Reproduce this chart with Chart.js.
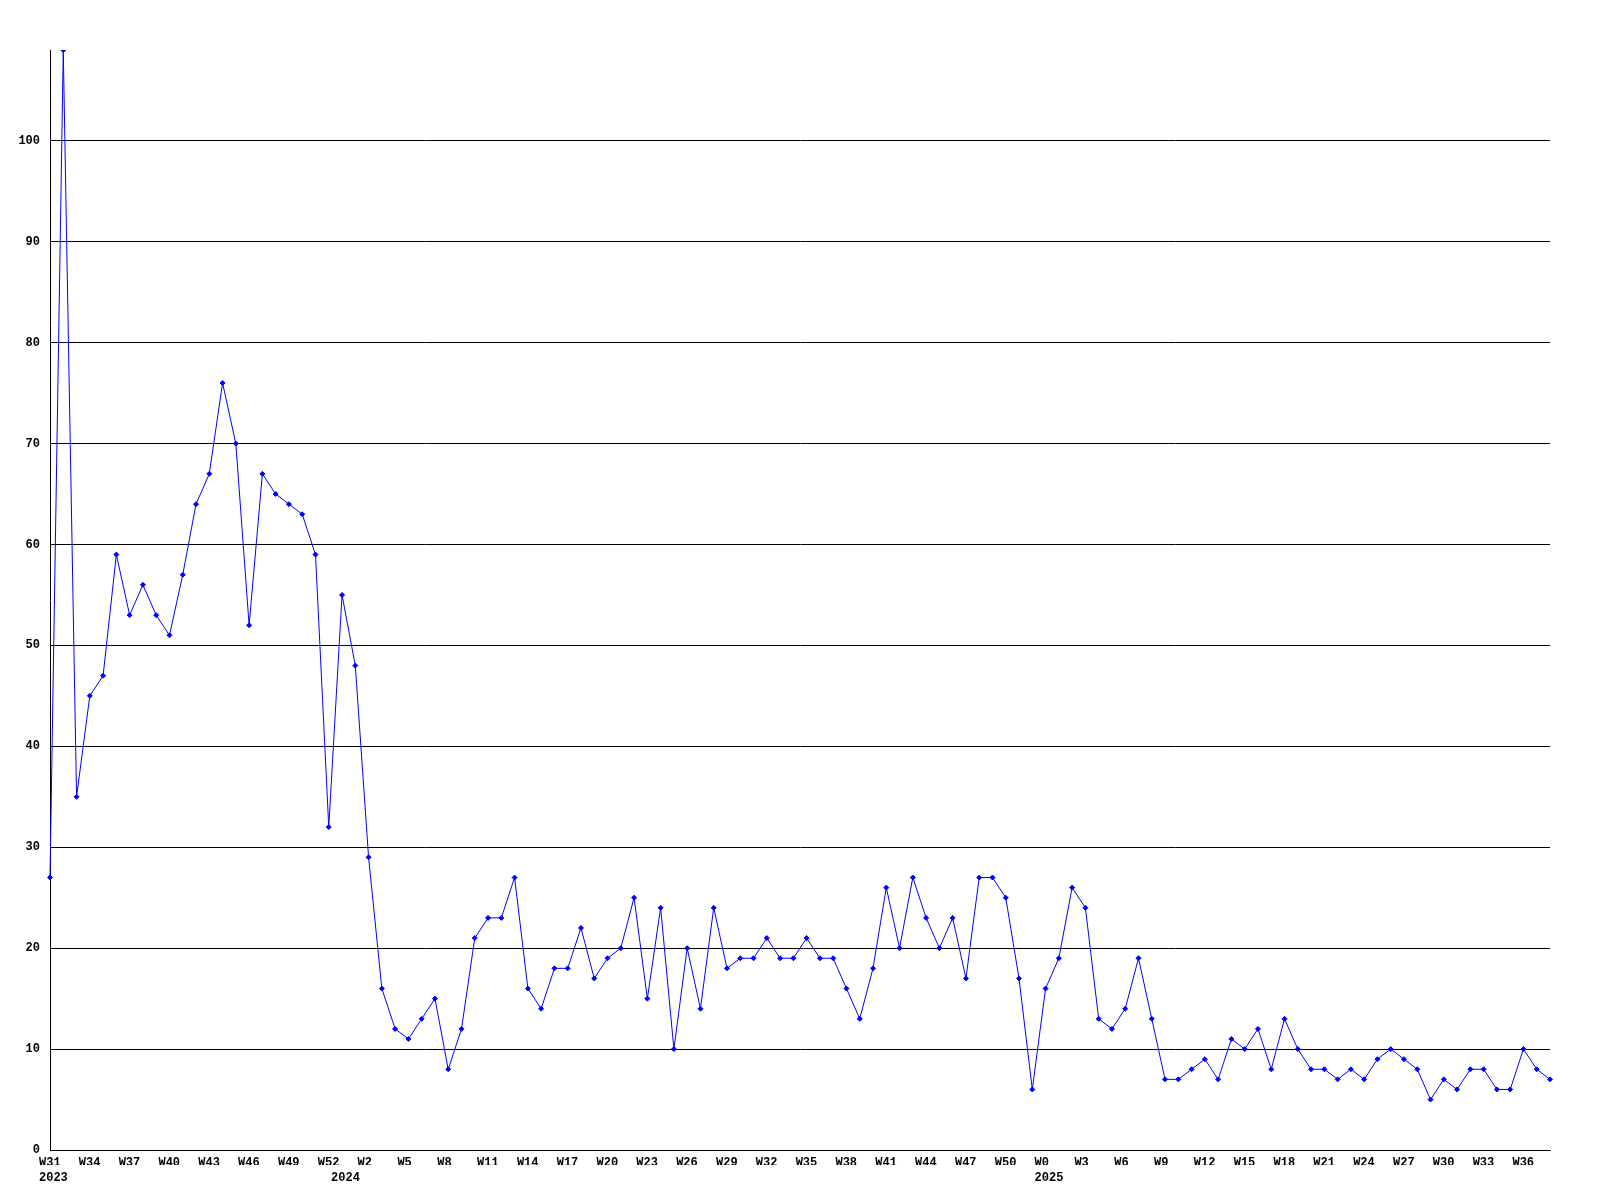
<!DOCTYPE html>
<html>
<head>
<meta charset="utf-8">
<script src="https://cdn.jsdelivr.net/npm/chart.js@4"></script>
<style>
  body { margin: 0; background: #fff; }
  canvas { display: block; }
</style>
</head>
<body>
<canvas id="graph" width="1600" height="1200"></canvas>
<script>
// weeks covered per year
const years = [2023, 2024, 2025];
const firstWeeks = [31, 0, 0];
const lastWeeks = [52, 52, 38];

const values = [
  27, 109, 35, 45, 47, 59, 53, 56, 53, 51,
  57, 64, 67, 76, 70, 52, 67, 65, 64, 63,
  59, 32, 55, 48, 29, 16, 12, 11, 13, 15,
  8, 12, 21, 23, 23, 27, 16, 14, 18, 18,
  22, 17, 19, 20, 25, 15, 24, 10, 20, 14,
  24, 18, 19, 19, 21, 19, 19, 21, 19, 19,
  16, 13, 18, 26, 20, 27, 23, 20, 23, 17,
  27, 27, 25, 17, 6, 16, 19, 26, 24, 13,
  12, 14, 19, 13, 7, 7, 8, 9, 7, 11,
  10, 12, 8, 13, 10, 8, 8, 7, 8, 7,
  9, 10, 9, 8, 5, 7, 6, 8, 8, 6,
  6, 10, 8, 7
];

const weekLabels = [];
const yearLabels = [];
years.forEach((y, k) => {
  for (let w = firstWeeks[k]; w <= lastWeeks[k]; w++) {
    weekLabels.push('W' + w);
    yearLabels.push(w === firstWeeks[k] ? String(y) : '');
  }
});

const tickFont = { family: '"Liberation Mono", "DejaVu Sans Mono", monospace', size: 12, weight: 'bold' };

const ctx = document.getElementById('graph').getContext('2d');
new Chart(ctx, {
  type: 'line',
  data: {
    labels: weekLabels,
    datasets: [{
      data: values,
      borderColor: '#0000ff',
      backgroundColor: '#0000ff',
      borderWidth: 1,
      tension: 0,
      pointStyle: 'rectRot',
      pointRadius: 2.5,
      pointBorderWidth: 1
    }]
  },
  options: {
    responsive: false,
    animation: false,
    layout: { padding: { top: 50, right: 50, left: 0, bottom: 0 } },
    plugins: {
      legend: { display: false },
      tooltip: { enabled: false }
    },
    scales: {
      x: {
        grid: { display: false, drawTicks: false },
        border: { display: true, color: '#000', width: 1 },
        ticks: {
          color: '#000',
          font: tickFont,
          autoSkip: false,
          maxRotation: 0,
          align: 'start',
          labelOffset: -11,
          padding: 6,
          callback: (v, i) => (i % 3 === 0 ? weekLabels[i] : '')
        },
        afterFit: (s) => { s.height = 15; }
      },
      x2: {
        type: 'category',
        position: 'bottom',
        labels: yearLabels,
        grid: { display: false, drawTicks: false },
        border: { display: false },
        ticks: {
          color: '#000',
          font: tickFont,
          autoSkip: false,
          maxRotation: 0,
          align: 'start',
          labelOffset: -11,
          padding: 6
        },
        afterFit: (s) => { s.height = 35; }
      },
      y: {
        min: 0,
        max: Math.max(...values),
        grid: { color: '#000', lineWidth: 1, drawTicks: false },
        border: { display: true, color: '#000', width: 1 },
        ticks: {
          stepSize: 10,
          color: '#000',
          font: tickFont,
          padding: 10
        },
        afterBuildTicks: (s) => { s.ticks = s.ticks.filter(t => t.value % 10 === 0); },
        afterFit: (s) => { s.width = 50; }
      }
    }
  }
});
</script>
</body>
</html>
